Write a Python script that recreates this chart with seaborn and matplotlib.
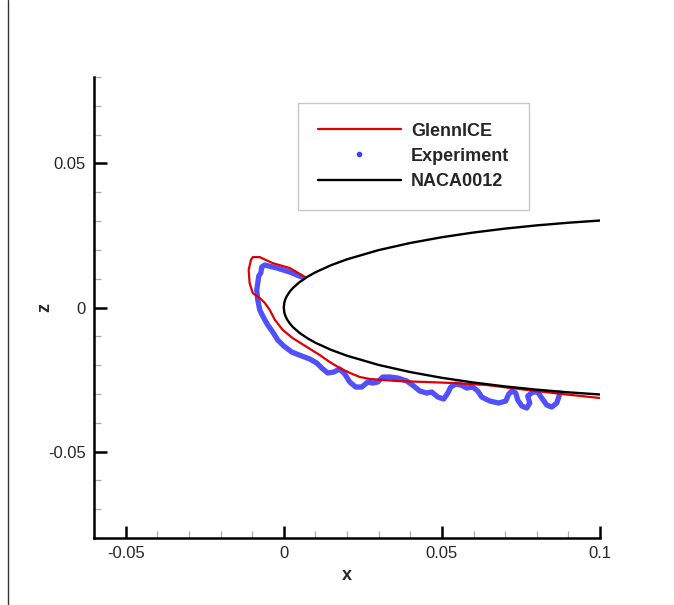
import matplotlib

matplotlib.use("Agg")

import matplotlib.pyplot as plt
import seaborn as sns
from matplotlib.lines import Line2D
from matplotlib.ticker import MultipleLocator

# NACA0012 section (chord 0.5334), upper surface; lower surface is its mirror
naca_x_upper = [0.1, 0.09, 0.08, 0.07, 0.06, 0.05, 0.04, 0.03, 0.02, 0.015, 0.01,
                0.0075, 0.005, 0.003, 0.002, 0.001, 0.0005, 0.0002, 0.0]
naca_z_upper = [0.03019, 0.02943, 0.02851, 0.02739, 0.02603, 0.02440, 0.02240, 0.01993,
                0.01673, 0.01471, 0.01222, 0.01068, 0.00881, 0.00690, 0.00567, 0.00404,
                0.00287, 0.00183, 0.0]
naca_x_lower = [0.0002, 0.0005, 0.001, 0.002, 0.003, 0.005, 0.0075, 0.01, 0.015, 0.02,
                0.03, 0.04, 0.05, 0.06, 0.07, 0.08, 0.09, 0.1]
naca_z_lower = [-0.00183, -0.00287, -0.00404, -0.00567, -0.00690, -0.00881, -0.01068,
                -0.01222, -0.01471, -0.01673, -0.01993, -0.02240, -0.02440, -0.02603,
                -0.02739, -0.02851, -0.02943, -0.03019]

# GlennICE predicted ice shape
glennice_x = [0.0070, 0.0019, -0.0035, -0.0076, -0.0098, -0.0104, -0.0111, -0.0108,
              -0.0098, -0.0076, -0.0060, -0.0044, -0.0028, -0.0003, 0.0028, 0.0073,
              0.0114, 0.0145, 0.0177, 0.0209, 0.0240, 0.0272, 0.0357, 0.0462, 0.0534,
              0.0642, 0.0715, 0.0879, 0.0999]
glennice_z = [0.0104, 0.0137, 0.0154, 0.0175, 0.0175, 0.0165, 0.0130, 0.0085,
              0.0050, 0.0033, 0.0016, -0.0009, -0.0043, -0.0078, -0.0106, -0.0137,
              -0.0165, -0.0189, -0.0210, -0.0227, -0.0241, -0.0248, -0.0255, -0.0259,
              -0.0262, -0.0269, -0.0279, -0.0300, -0.0314]

# Experimental ice tracing
exp_x = [0.00569, 0.00190, -0.00221, -0.00601, -0.00696, -0.00727, -0.00791, -0.00822,
         -0.00854, -0.00822, -0.00759, -0.00632, -0.00506, -0.00348, -0.00190, 0.0,
         0.00253, 0.00569, 0.00822, 0.01043, 0.01202, 0.01391, 0.01581, 0.01771,
         0.01929, 0.02087, 0.02277, 0.02466, 0.02656, 0.02814, 0.02972, 0.03130,
         0.03352, 0.03605, 0.03889, 0.04111, 0.04300, 0.04522, 0.04680, 0.04870,
         0.05059, 0.05186, 0.05281, 0.05439, 0.05597, 0.05787, 0.05976, 0.06134,
         0.06261, 0.06514, 0.06798, 0.07020, 0.07115, 0.07209, 0.07336, 0.07399,
         0.07526, 0.07684, 0.07779, 0.07715, 0.07874, 0.08032, 0.08158, 0.08316,
         0.08474, 0.08632, 0.08696, 0.08727]
exp_z = [0.01059, 0.01232, 0.01371, 0.01475, 0.01406, 0.01197, 0.01093, 0.00850,
         0.00607, 0.00260, -0.00087, -0.00364, -0.00607, -0.00850, -0.01128, -0.01336,
         -0.01545, -0.01683, -0.01787, -0.01926, -0.02100, -0.02273, -0.02239, -0.02135,
         -0.02308, -0.02586, -0.02759, -0.02759, -0.02586, -0.02621, -0.02586, -0.02412,
         -0.02412, -0.02447, -0.02551, -0.02725, -0.02898, -0.02968, -0.02933, -0.03107,
         -0.03176, -0.02968, -0.02759, -0.02655, -0.02690, -0.02794, -0.02759, -0.02898,
         -0.03107, -0.03245, -0.03315, -0.03245, -0.03002, -0.02898, -0.02968, -0.03211,
         -0.03419, -0.03489, -0.03315, -0.03072, -0.02933, -0.02933, -0.03141, -0.03384,
         -0.03454, -0.03315, -0.03107, -0.02968]

x_ticks = [-0.05, 0, 0.05, 0.1]
x_tick_labels = ["-0.05", "0", "0.05", "0.1"]
z_ticks = [-0.05, 0, 0.05]
z_tick_labels = ["-0.05", "0", "0.05"]

RED = "#e00000"
BLUE = "#3d3dff"

sns.set_theme(style="ticks")
plt.rcParams["font.family"] = ["Liberation Sans", "DejaVu Sans"]

fig = plt.figure(figsize=(6.74, 6.05), dpi=100)
axis = fig.add_axes([0.1395, 0.1107, 0.7507, 0.762])

naca_x = naca_x_upper + naca_x_lower
naca_z = naca_z_upper + naca_z_lower

sns.lineplot(x=exp_x, y=exp_z, sort=False, estimator=None, color=BLUE, linewidth=3.8,
             alpha=0.9, ax=axis, zorder=2)
sns.lineplot(x=glennice_x, y=glennice_z, sort=False, estimator=None, color=RED,
             linewidth=1.6, ax=axis, zorder=3)
sns.lineplot(x=naca_x, y=naca_z, sort=False, estimator=None, color="black",
             linewidth=1.7, ax=axis, zorder=4)

axis.set_xlim(-0.06, 0.1)
axis.set_ylim(-0.08, 0.08)
axis.set_xticks(x_ticks)
axis.set_xticklabels(x_tick_labels)
axis.set_yticks(z_ticks)
axis.set_yticklabels(z_tick_labels)
axis.xaxis.set_minor_locator(MultipleLocator(0.01))
axis.yaxis.set_minor_locator(MultipleLocator(0.01))
axis.tick_params(which="major", direction="in", length=9, width=1.8, color="black",
                 labelsize=12, pad=6)
axis.tick_params(which="minor", direction="in", length=5, width=0.9, color="#aaaaaa")
for side in ["top", "right"]:
    axis.spines[side].set_visible(False)
for side in ["left", "bottom"]:
    axis.spines[side].set_linewidth(1.8)
    axis.spines[side].set_color("black")

axis.set_xlabel("x", fontsize=13, fontweight="bold", labelpad=4)
axis.set_ylabel("z", fontsize=13, fontweight="bold")
axis.yaxis.set_label_coords(-0.08, 0.5)

handles = [
    Line2D([], [], color=RED, linewidth=1.6),
    Line2D([], [], color=BLUE, linestyle="none", marker="o", markersize=3),
    Line2D([], [], color="black", linewidth=1.7),
]
legend = axis.legend(handles, ["GlennICE", "Experiment", "NACA0012"],
                     loc="upper left", bbox_to_anchor=(0.403, 0.944), borderaxespad=0,
                     frameon=True, fancybox=False, edgecolor="#bbbbbb", handlelength=4.6,
                     handletextpad=0.55, borderpad=1.1, labelspacing=0.45,
                     prop={"weight": "bold", "size": 13})
legend.get_frame().set_linewidth(1.0)

fig.add_artist(Line2D([8 / 674, 8 / 674], [0.0, 1.0], color="#333333", linewidth=1.0))

fig.savefig("out.png", dpi=100)
plt.close(fig)
